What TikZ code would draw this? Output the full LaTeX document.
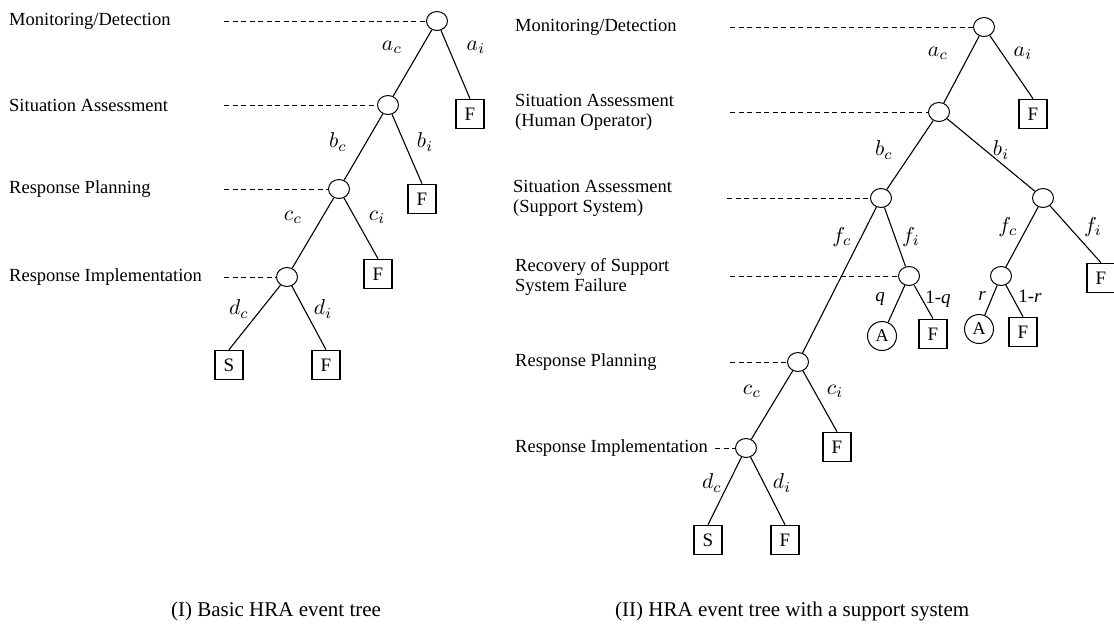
\documentclass[tikz,border=0pt]{standalone}
\usepackage{fontspec}
\setmainfont{Liberation Serif}
\usetikzlibrary{shapes.geometric}
\begin{document}
\begin{tikzpicture}[x=1pt,y=-1pt,
  chance/.style={draw, ellipse, minimum width=21pt, minimum height=19pt, inner sep=0pt, line width=1pt},
  endbox/.style={draw, rectangle, minimum width=28pt, minimum height=29pt, inner sep=0pt, line width=1.6pt, font=\fontsize{19}{22}\selectfont},
  endcirc/.style={draw, circle, minimum size=29pt, inner sep=0pt, line width=1pt, font=\fontsize{18}{21}\selectfont},
  stage/.style={anchor=west, align=left, inner sep=0pt, font=\fontsize{18.5}{20}\selectfont},
  guide/.style={dash pattern=on 5pt off 3.5pt, line width=0.9pt},
  branch/.style={line width=1.1pt},
  prob/.style={inner sep=0pt, scale=2.15},
  textprob/.style={inner sep=0pt, font=\fontsize{19}{22}\selectfont},
  captext/.style={inner sep=0pt, font=\fontsize{21}{24}\selectfont}
]
\useasboundingbox[fill=white] (0,0) rectangle (1114,625);

% ---------------- left tree ----------------
\node[stage] (lt1) at (9,21) {Monitoring/Detection};
\node[stage] (lt2) at (9,105) {Situation Assessment};
\node[stage] (lt3) at (9,189) {Response Planning};
\node[stage] (lt4) at (9,277) {Response Implementation};

\node[chance] (L1) at (437,21) {};
\node[chance] (L2) at (388,105) {};
\node[chance] (L3) at (339,189) {};
\node[chance] (L4) at (287,277) {};
\node[endbox] (LF1) at (470,114) {F};
\node[endbox] (LF2) at (422,199) {F};
\node[endbox] (LF3) at (378,274) {F};
\node[endbox] (LS) at (229,365) {S};
\node[endbox] (LF4) at (326,365) {F};

\coordinate (lg1) at (224,21);
\coordinate (lg2) at (224,105);
\coordinate (lg3) at (224,189);
\coordinate (lg4) at (224,277);
\draw[guide] (lg1) -- (L1.west);
\draw[guide] (lg2) -- (L2.west);
\draw[guide] (lg3) -- (L3.west);
\draw[guide] (lg4) -- (L4.west);

\draw[branch] (L1) -- (L2);
\draw[branch] (L1) -- (LF1.north);
\draw[branch] (L2) -- (L3);
\draw[branch] (L2) -- (LF2.north);
\draw[branch] (L3) -- (L4);
\draw[branch] (L3) -- (LF3.north);
\draw[branch] (L4) -- (LS.north);
\draw[branch] (L4) -- (LF4.north);

\node[prob] (la1) at (392,47) {$a_c$};
\node[prob] (la2) at (476,47) {$a_i$};
\node[prob] (lb1) at (338,142) {$b_c$};
\node[prob] (lb2) at (425,142) {$b_i$};
\node[prob] (lc1) at (293,217) {$c_c$};
\node[prob] (lc2) at (377,217) {$c_i$};
\node[prob] (ld1) at (239,309) {$d_c$};
\node[prob] (ld2) at (323,309) {$d_i$};

% ---------------- right tree ----------------
\node[stage] (rt1) at (515,27) {Monitoring/Detection};
\node[stage] (rt2) at (515,112) {Situation Assessment\\(Human Operator)};
\node[stage] (rt3) at (513,198) {Situation Assessment\\(Support System)};
\node[stage] (rt4) at (515,277) {Recovery of Support\\System Failure};
\node[stage] (rt5) at (515,362) {Response Planning};
\node[stage] (rt6) at (515,448) {Response Implementation};

\node[chance] (R1) at (984,27) {};
\node[chance] (R2) at (939,112) {};
\node[chance] (R3) at (881,198) {};
\node[chance] (R3b) at (1043,198) {};
\node[chance] (R4) at (909,276) {};
\node[chance] (R4b) at (1001,276) {};
\node[chance] (R5) at (798,362) {};
\node[chance] (R6) at (746,448) {};
\node[endbox] (RF1) at (1033,114) {F};
\node[endbox] (RF2) at (1101,278) {F};
\node[endcirc] (RA1) at (882,336) {A};
\node[endbox] (RF3) at (933,334) {F};
\node[endcirc] (RA2) at (979,329) {A};
\node[endbox] (RF4) at (1023,332) {F};
\node[endbox] (RF5) at (837,447) {F};
\node[endbox] (RS) at (708,540) {S};
\node[endbox] (RF6) at (785,540) {F};

\coordinate (rg1) at (730,27);
\coordinate (rg2) at (730,112);
\coordinate (rg3) at (727,198);
\coordinate (rg4) at (730,276);
\coordinate (rg5) at (730,362);
\coordinate (rg6) at (715,448);
\draw[guide] (rg1) -- (R1.west);
\draw[guide] (rg2) -- (R2.west);
\draw[guide] (rg3) -- (R3.west);
\draw[guide] (rg4) -- (R4.west);
\draw[guide] (rg5) -- (R5.west);
\draw[guide] (rg6) -- (R6.west);

\draw[branch] (R1) -- (R2);
\draw[branch] (R1) -- (RF1.north);
\draw[branch] (R2) -- (R3);
\draw[branch] (R2) -- (R3b);
\draw[branch] (R3) -- (R5);
\draw[branch] (R3) -- (R4);
\draw[branch] (R3b) -- (R4b);
\draw[branch] (R3b) -- (RF2.north);
\draw[branch] (R4) -- (RA1);
\draw[branch] (R4) -- (RF3.north);
\draw[branch] (R4b) -- (RA2);
\draw[branch] (R4b) -- (RF4.north);
\draw[branch] (R5) -- (R6);
\draw[branch] (R5) -- (RF5.north);
\draw[branch] (R6) -- (RS.north);
\draw[branch] (R6) -- (RF6.north);

\node[prob] (ra1) at (938,53) {$a_c$};
\node[prob] (ra2) at (1023,53) {$a_i$};
\node[prob] (rb1) at (884,150) {$b_c$};
\node[prob] (rb2) at (1001,150) {$b_i$};
\node[prob] (rf1) at (842,237) {$f_c$};
\node[prob] (rf2) at (911,237) {$f_i$};
\node[prob] (rf3) at (1008,227) {$f_c$};
\node[prob] (rf4) at (1093,227) {$f_i$};
\node[textprob] (rq1) at (880,299) {\textit{q}};
\node[textprob] (rq2) at (938,299) {1-\textit{q}};
\node[textprob] (rr1) at (982,296) {\textit{r}};
\node[textprob] (rr2) at (1030,296) {1-\textit{r}};
\node[prob] (rc1) at (752,391) {$c_c$};
\node[prob] (rc2) at (835,391) {$c_i$};
\node[prob] (rd1) at (712,483) {$d_c$};
\node[prob] (rd2) at (782,483) {$d_i$};

% ---------------- captions ----------------
\node[captext] (capI) at (276,611) {(I) Basic HRA event tree};
\node[captext, anchor=west] (capII) at (615,611) {(II) HRA event tree with a support system};
\end{tikzpicture}
\end{document}
